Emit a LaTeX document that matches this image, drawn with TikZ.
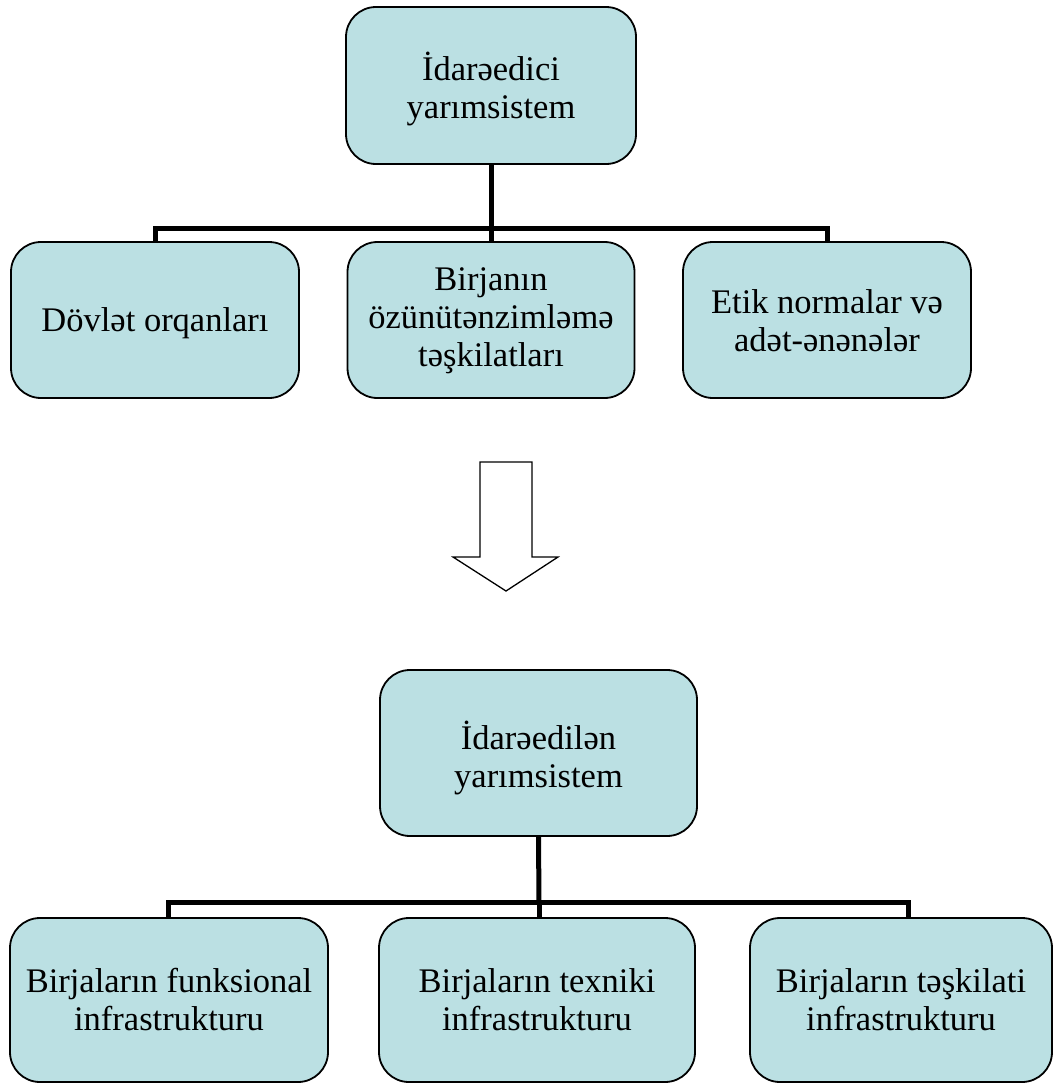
\documentclass[tikz,border=0pt]{standalone}
\usepackage{fontspec}
\setmainfont{Liberation Serif}
\usetikzlibrary{positioning}

\definecolor{boxfill}{RGB}{187,224,227}

\tikzset{
	unitbox/.style={draw=black, line width=1.8pt, fill=boxfill, rounded corners=30pt, inner sep=0pt},
	boxtext/.style={align=center, inner sep=0pt, font=\fontsize{34.5}{38}\selectfont},
	tree/.style={line width=5pt}
}

\begin{document}
\begin{tikzpicture}[x=1pt, y=-1pt]
	\useasboundingbox (0,0) rectangle (1056,1084);

	% Upper part
	\node[unitbox, minimum width=290pt, minimum height=157pt] (ctrl) at (491,85.5) {};
	\node[boxtext] (ctrlT) at ([yshift=-3pt]ctrl.center) {İdarəedici\\yarımsistem};
	\node[unitbox, minimum width=288pt, minimum height=156pt] (state) at (155,320) {};
	\node[boxtext] (stateT) at ([yshift=-3pt]state.center) {Dövlət orqanları};
	\node[unitbox, minimum width=287pt, minimum height=156pt] (self) at (491,320) {};
	\node[boxtext] (selfT) at ([yshift=-1pt]self.center) {Birjanın\\özünütənzimləmə\\təşkilatları};
	\node[unitbox, minimum width=288pt, minimum height=156pt] (ethic) at (827,320) {};
	\node[boxtext] (ethicT) at ([yshift=-1pt]ethic.center) {Etik normalar və\\adət-ənənələr};
	\coordinate (j1) at (491,228);
	\draw[tree] (ctrl.south) -- (j1);
	\draw[tree] (state.north) |- (j1) -| (ethic.north);
	\draw[tree] (j1) -- (self.north);

	% Hollow arrow
	\draw[line width=1.3pt, fill=white] (480,462) -- (532,462) -- (532,557) -- (558,557)
		-- (506,591) -- (453,557) -- (480,557) -- cycle;

	% Lower part
	\node[unitbox, minimum width=317pt, minimum height=166pt] (ctrd) at (538.5,753) {};
	\node[boxtext] (ctrdT) at ([yshift=-5pt]ctrd.center) {İdarəedilən\\yarımsistem};
	\node[unitbox, minimum width=318pt, minimum height=164pt] (func) at (169,1000) {};
	\node[boxtext] (funcT) at (func.center) {Birjaların funksional\\infrastrukturu};
	\node[unitbox, minimum width=316pt, minimum height=164pt] (tech) at (537,1000) {};
	\node[boxtext] (techT) at (tech.center) {Birjaların texniki\\infrastrukturu};
	\node[unitbox, minimum width=302pt, minimum height=164pt] (org) at (901,1000) {};
	\node[boxtext] (orgT) at (org.center) {Birjaların təşkilati\\infrastrukturu};
	\coordinate (j2) at (539,902);
	\draw[tree] (ctrd.south) -- (j2);
	\draw[tree] ([xshift=-1pt]func.north) |- (j2) -| ([xshift=7pt]org.north);
	\draw[tree] (j2) -- (j2 |- tech.north);
\end{tikzpicture}
\end{document}
